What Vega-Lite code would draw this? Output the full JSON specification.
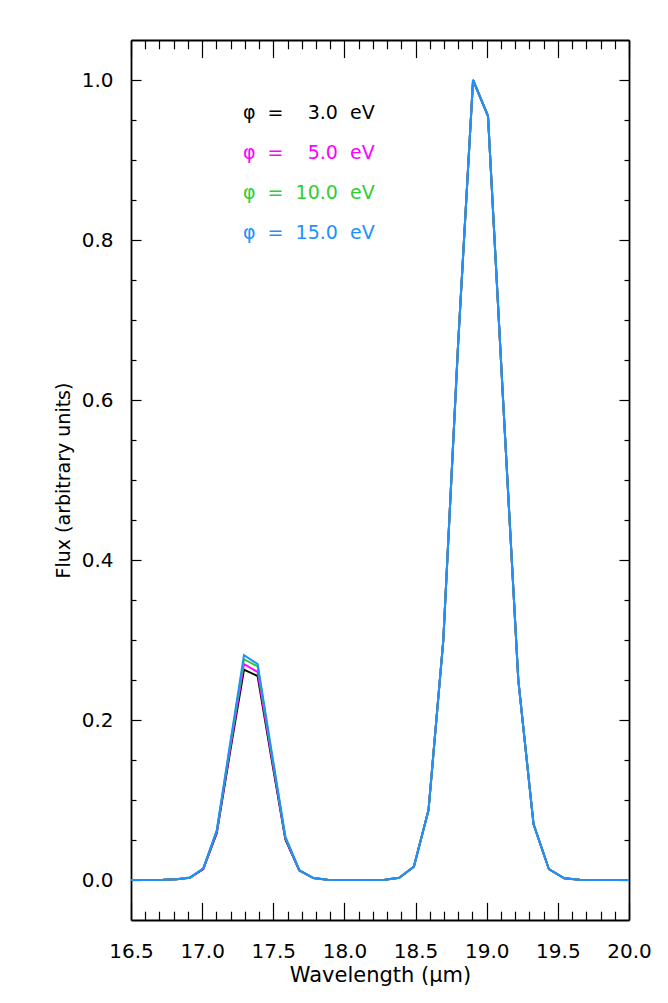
{
  "$schema": "https://vega.github.io/schema/vega-lite/v6.json",
  "width": 498,
  "height": 880,
  "autosize": {"type": "none"},
  "padding": {"left": 131, "top": 40, "right": 39, "bottom": 83},
  "background": "white",
  "config": {
    "view": {"stroke": null},
    "axis": {
      "domainColor": "black", "tickColor": "black", "labelColor": "black", "titleColor": "black",
      "labelFont": "DejaVu Sans", "titleFont": "DejaVu Sans", "titleFontWeight": "normal",
      "grid": false, "domainWidth": 1.8, "tickWidth": 1.2, "labelFlush": false, "labelOverlap": false
    }
  },
  "data": {"values": [
    {"wl":16.450,"phi":3,"flux":0},{"wl":16.542,"phi":3,"flux":0},{"wl":16.634,"phi":3,"flux":0},{"wl":16.727,"phi":3,"flux":0.0002},{"wl":16.820,"phi":3,"flux":0.0008},{"wl":16.914,"phi":3,"flux":0.0028},{"wl":17.008,"phi":3,"flux":0.0137},{"wl":17.103,"phi":3,"flux":0.0588},{"wl":17.198,"phi":3,"flux":0.1617},{"wl":17.294,"phi":3,"flux":0.263},{"wl":17.390,"phi":3,"flux":0.255},{"wl":17.487,"phi":3,"flux":0.1523},{"wl":17.585,"phi":3,"flux":0.0508},{"wl":17.683,"phi":3,"flux":0.0118},{"wl":17.782,"phi":3,"flux":0.0024},{"wl":17.881,"phi":3,"flux":0.0004},{"wl":17.981,"phi":3,"flux":0.0001},{"wl":18.081,"phi":3,"flux":0},{"wl":18.182,"phi":3,"flux":0},{"wl":18.283,"phi":3,"flux":0.0004},{"wl":18.385,"phi":3,"flux":0.0028},{"wl":18.488,"phi":3,"flux":0.0166},{"wl":18.591,"phi":3,"flux":0.0875},{"wl":18.695,"phi":3,"flux":0.300},{"wl":18.799,"phi":3,"flux":0.67},{"wl":18.904,"phi":3,"flux":1.0},{"wl":19.009,"phi":3,"flux":0.955},{"wl":19.115,"phi":3,"flux":0.60},{"wl":19.222,"phi":3,"flux":0.25},{"wl":19.329,"phi":3,"flux":0.07},{"wl":19.437,"phi":3,"flux":0.0135},{"wl":19.545,"phi":3,"flux":0.0021},{"wl":19.654,"phi":3,"flux":0.0003},{"wl":19.764,"phi":3,"flux":0},{"wl":19.874,"phi":3,"flux":0},{"wl":19.985,"phi":3,"flux":0},{"wl":20.096,"phi":3,"flux":0},
    {"wl":16.450,"phi":5,"flux":0},{"wl":16.542,"phi":5,"flux":0},{"wl":16.634,"phi":5,"flux":0},{"wl":16.727,"phi":5,"flux":0.0002},{"wl":16.820,"phi":5,"flux":0.0008},{"wl":16.914,"phi":5,"flux":0.0029},{"wl":17.008,"phi":5,"flux":0.0140},{"wl":17.103,"phi":5,"flux":0.0601},{"wl":17.198,"phi":5,"flux":0.1655},{"wl":17.294,"phi":5,"flux":0.270},{"wl":17.390,"phi":5,"flux":0.260},{"wl":17.487,"phi":5,"flux":0.1558},{"wl":17.585,"phi":5,"flux":0.0519},{"wl":17.683,"phi":5,"flux":0.0120},{"wl":17.782,"phi":5,"flux":0.0024},{"wl":17.881,"phi":5,"flux":0.0004},{"wl":17.981,"phi":5,"flux":0.0001},{"wl":18.081,"phi":5,"flux":0},{"wl":18.182,"phi":5,"flux":0},{"wl":18.283,"phi":5,"flux":0.0004},{"wl":18.385,"phi":5,"flux":0.0028},{"wl":18.488,"phi":5,"flux":0.0166},{"wl":18.591,"phi":5,"flux":0.0875},{"wl":18.695,"phi":5,"flux":0.300},{"wl":18.799,"phi":5,"flux":0.67},{"wl":18.904,"phi":5,"flux":1.0},{"wl":19.009,"phi":5,"flux":0.955},{"wl":19.115,"phi":5,"flux":0.60},{"wl":19.222,"phi":5,"flux":0.25},{"wl":19.329,"phi":5,"flux":0.07},{"wl":19.437,"phi":5,"flux":0.0135},{"wl":19.545,"phi":5,"flux":0.0021},{"wl":19.654,"phi":5,"flux":0.0003},{"wl":19.764,"phi":5,"flux":0},{"wl":19.874,"phi":5,"flux":0},{"wl":19.985,"phi":5,"flux":0},{"wl":20.096,"phi":5,"flux":0},
    {"wl":16.450,"phi":10,"flux":0},{"wl":16.542,"phi":10,"flux":0},{"wl":16.634,"phi":10,"flux":0},{"wl":16.727,"phi":10,"flux":0.0002},{"wl":16.820,"phi":10,"flux":0.0008},{"wl":16.914,"phi":10,"flux":0.003},{"wl":17.008,"phi":10,"flux":0.0144},{"wl":17.103,"phi":10,"flux":0.0616},{"wl":17.198,"phi":10,"flux":0.1694},{"wl":17.294,"phi":10,"flux":0.276},{"wl":17.390,"phi":10,"flux":0.267},{"wl":17.487,"phi":10,"flux":0.1596},{"wl":17.585,"phi":10,"flux":0.0532},{"wl":17.683,"phi":10,"flux":0.0123},{"wl":17.782,"phi":10,"flux":0.0025},{"wl":17.881,"phi":10,"flux":0.0004},{"wl":17.981,"phi":10,"flux":0.0001},{"wl":18.081,"phi":10,"flux":0},{"wl":18.182,"phi":10,"flux":0},{"wl":18.283,"phi":10,"flux":0.0004},{"wl":18.385,"phi":10,"flux":0.0028},{"wl":18.488,"phi":10,"flux":0.0166},{"wl":18.591,"phi":10,"flux":0.0875},{"wl":18.695,"phi":10,"flux":0.300},{"wl":18.799,"phi":10,"flux":0.67},{"wl":18.904,"phi":10,"flux":1.0},{"wl":19.009,"phi":10,"flux":0.955},{"wl":19.115,"phi":10,"flux":0.60},{"wl":19.222,"phi":10,"flux":0.25},{"wl":19.329,"phi":10,"flux":0.07},{"wl":19.437,"phi":10,"flux":0.0135},{"wl":19.545,"phi":10,"flux":0.0021},{"wl":19.654,"phi":10,"flux":0.0003},{"wl":19.764,"phi":10,"flux":0},{"wl":19.874,"phi":10,"flux":0},{"wl":19.985,"phi":10,"flux":0},{"wl":20.096,"phi":10,"flux":0},
    {"wl":16.450,"phi":15,"flux":0},{"wl":16.542,"phi":15,"flux":0},{"wl":16.634,"phi":15,"flux":0},{"wl":16.727,"phi":15,"flux":0.0002},{"wl":16.820,"phi":15,"flux":0.0008},{"wl":16.914,"phi":15,"flux":0.003},{"wl":17.008,"phi":15,"flux":0.0146},{"wl":17.103,"phi":15,"flux":0.0625},{"wl":17.198,"phi":15,"flux":0.172},{"wl":17.294,"phi":15,"flux":0.281},{"wl":17.390,"phi":15,"flux":0.270},{"wl":17.487,"phi":15,"flux":0.162},{"wl":17.585,"phi":15,"flux":0.054},{"wl":17.683,"phi":15,"flux":0.0125},{"wl":17.782,"phi":15,"flux":0.0025},{"wl":17.881,"phi":15,"flux":0.0004},{"wl":17.981,"phi":15,"flux":0.0001},{"wl":18.081,"phi":15,"flux":0},{"wl":18.182,"phi":15,"flux":0},{"wl":18.283,"phi":15,"flux":0.0004},{"wl":18.385,"phi":15,"flux":0.0028},{"wl":18.488,"phi":15,"flux":0.0166},{"wl":18.591,"phi":15,"flux":0.0875},{"wl":18.695,"phi":15,"flux":0.300},{"wl":18.799,"phi":15,"flux":0.67},{"wl":18.904,"phi":15,"flux":1.0},{"wl":19.009,"phi":15,"flux":0.955},{"wl":19.115,"phi":15,"flux":0.60},{"wl":19.222,"phi":15,"flux":0.25},{"wl":19.329,"phi":15,"flux":0.07},{"wl":19.437,"phi":15,"flux":0.0135},{"wl":19.545,"phi":15,"flux":0.0021},{"wl":19.654,"phi":15,"flux":0.0003},{"wl":19.764,"phi":15,"flux":0},{"wl":19.874,"phi":15,"flux":0},{"wl":19.985,"phi":15,"flux":0},{"wl":20.096,"phi":15,"flux":0}
  ]},
  "layer": [
    {
      "mark": {"type": "line", "strokeWidth": 2, "clip": true},
      "encoding": {
        "x": {"field": "wl", "type": "quantitative",
          "scale": {"domain": [16.5, 20.0], "nice": false, "zero": false},
          "axis": {"orient": "bottom", "values": [16.5, 17.0, 17.5, 18.0, 18.5, 19.0, 19.5, 20.0], "format": ".1f",
            "tickSize": -17.6, "labelFontSize": 20, "labelPadding": 39, "title": "Wavelength (μm)", "titleFontSize": 21, "titlePadding": 3}},
        "y": {"field": "flux", "type": "quantitative",
          "scale": {"domain": [-0.05, 1.05], "nice": false, "zero": false},
          "axis": {"orient": "left", "values": [0, 0.2, 0.4, 0.6, 0.8, 1.0], "format": ".1f",
            "tickSize": -10, "labelFontSize": 20, "labelPadding": 28, "title": "Flux (arbitrary units)", "titleFontSize": 19, "titlePadding": 8}},
        "color": {"field": "phi", "type": "nominal",
          "scale": {"domain": [3, 5, 10, 15], "range": ["#000000", "#FF00FF", "#32CD32", "#1E90FF"]},
          "legend": {"orient": "none", "legendX": 93, "legendY": 63, "title": null, "padding": 0,
            "symbolSize": 0, "symbolOpacity": 0, "symbolStrokeWidth": 0, "labelOffset": 0,
            "labelFont": "DejaVu Sans", "labelFontSize": 19, "rowPadding": 20.2, "labelLimit": 400,
            "labelExpr": "'φ\u00a0\u00a0=\u00a0\u00a0' + (datum.value < 10 ? '\u2007' : '') + format(datum.value, '.1f') + '\u00a0\u00a0eV'",
            "encode": {"labels": {"update": {"fill": {"scale": "color", "field": "value"}}}}}}
      }
    },
    {
      "mark": {"type": "point", "opacity": 0},
      "encoding": {
        "x": {"field": "wl", "type": "quantitative",
          "scale": {"domain": [16.5, 20.0], "nice": false, "zero": false},
          "axis": {"orient": "bottom", "values": [16.6,16.7,16.8,16.9,17.1,17.2,17.3,17.4,17.6,17.7,17.8,17.9,18.1,18.2,18.3,18.4,18.6,18.7,18.8,18.9,19.1,19.2,19.3,19.4,19.6,19.7,19.8,19.9],
            "tickSize": -8.8, "labels": false, "domain": false, "title": null}},
        "y": {"field": "flux", "type": "quantitative",
          "scale": {"domain": [-0.05, 1.05], "nice": false, "zero": false},
          "axis": {"orient": "left", "values": [0.05,0.1,0.15,0.25,0.3,0.35,0.45,0.5,0.55,0.65,0.7,0.75,0.85,0.9,0.95],
            "tickSize": -5, "labels": false, "domain": false, "title": null}}
      }
    },
    {
      "mark": {"type": "point", "opacity": 0},
      "encoding": {
        "x": {"field": "wl", "type": "quantitative",
          "scale": {"domain": [16.5, 20.0], "nice": false, "zero": false},
          "axis": {"orient": "top", "values": [16.5, 17.0, 17.5, 18.0, 18.5, 19.0, 19.5, 20.0],
            "tickSize": -17.6, "labels": false, "title": null}},
        "y": {"field": "flux", "type": "quantitative",
          "scale": {"domain": [-0.05, 1.05], "nice": false, "zero": false},
          "axis": {"orient": "right", "values": [0, 0.2, 0.4, 0.6, 0.8, 1.0],
            "tickSize": -10, "labels": false, "title": null}}
      }
    },
    {
      "mark": {"type": "point", "opacity": 0},
      "encoding": {
        "x": {"field": "wl", "type": "quantitative",
          "scale": {"domain": [16.5, 20.0], "nice": false, "zero": false},
          "axis": {"orient": "top", "values": [16.6,16.7,16.8,16.9,17.1,17.2,17.3,17.4,17.6,17.7,17.8,17.9,18.1,18.2,18.3,18.4,18.6,18.7,18.8,18.9,19.1,19.2,19.3,19.4,19.6,19.7,19.8,19.9],
            "tickSize": -8.8, "labels": false, "domain": false, "title": null}},
        "y": {"field": "flux", "type": "quantitative",
          "scale": {"domain": [-0.05, 1.05], "nice": false, "zero": false},
          "axis": {"orient": "right", "values": [0.05,0.1,0.15,0.25,0.3,0.35,0.45,0.5,0.55,0.65,0.7,0.75,0.85,0.9,0.95],
            "tickSize": -5, "labels": false, "domain": false, "title": null}}
      }
    }
  ],
  "resolve": {"axis": {"x": "independent", "y": "independent"}}
}
